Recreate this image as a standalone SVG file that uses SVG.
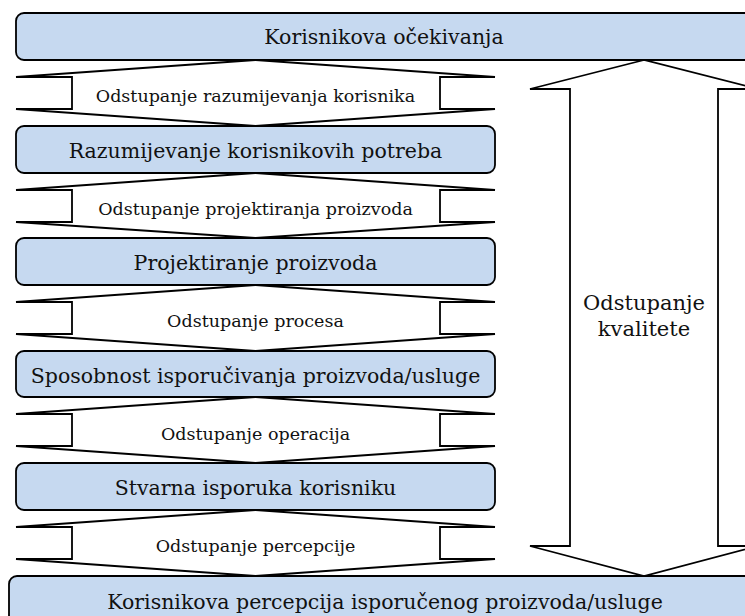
<svg xmlns="http://www.w3.org/2000/svg" width="745" height="616" viewBox="0 0 745 616">
  <style>
    .box { fill: #c6d9f0; stroke: #000; stroke-width: 1.8; }
    .arw { fill: #fff; stroke: #000; stroke-width: 1.8; stroke-linejoin: miter; }
    .t  { font-family: "DejaVu Serif", "Liberation Serif", serif; fill: #111; text-anchor: middle; }
    .tb { font-size: 20.5px; }
    .tl { font-size: 17.5px; }
    .tq { font-size: 21px; }
  </style>
  <rect width="745" height="616" fill="#fff"/>

  <!-- gap arrows between stages -->
  <g id="connectors">
    <polygon class="arw" points="255.5,60 16,77 72,77 72,109 16,109 255.5,126 495,109 440,109 440,77 495,77"/>
    <polygon class="arw" points="255.5,173 16,190 72,190 72,222 16,222 255.5,238 495,222 440,222 440,190 495,190"/>
    <polygon class="arw" points="255.5,285 16,302 72,302 72,334 16,334 255.5,351 495,334 440,334 440,302 495,302"/>
    <polygon class="arw" points="255.5,397 16,414 72,414 72,446 16,446 255.5,463 495,446 440,446 440,414 495,414"/>
    <polygon class="arw" points="255.5,510 16,527 72,527 72,559 16,559 255.5,576 495,559 440,559 440,527 495,527"/>
    <!-- overall quality gap -->
    <polygon class="arw" points="644,60 530,89 570,89 570,546 530,546 644,576 758,546 718,546 718,89 758,89"/>
  </g>

  <g id="gap1"><text class="t tl" x="255.5" y="101.5">Odstupanje razumijevanja korisnika</text></g>
  <g id="gap2"><text class="t tl" x="255.5" y="214.5">Odstupanje projektiranja proizvoda</text></g>
  <g id="gap3"><text class="t tl" x="255.5" y="326.5">Odstupanje procesa</text></g>
  <g id="gap4"><text class="t tl" x="255.5" y="439.5">Odstupanje operacija</text></g>
  <g id="gap5"><text class="t tl" x="255.5" y="551.5">Odstupanje percepcije</text></g>
  <g id="quality"><text class="t tq" x="644" y="309.5">Odstupanje</text><text class="t tq" x="644" y="336">kvalitete</text></g>

  <g id="expectations">
    <rect class="box" x="16" y="13" width="760" height="47" rx="8"/>
    <text class="t tb" x="384" y="44">Korisnikova očekivanja</text>
  </g>
  <g id="understanding">
    <rect class="box" x="16" y="126" width="479" height="47" rx="8"/>
    <text class="t tb" x="255.5" y="158">Razumijevanje korisnikovih potreba</text>
  </g>
  <g id="design">
    <rect class="box" x="16" y="238" width="479" height="47" rx="8"/>
    <text class="t tb" x="255.5" y="270">Projektiranje proizvoda</text>
  </g>
  <g id="capability">
    <rect class="box" x="16" y="351" width="479" height="46" rx="8"/>
    <text class="t tb" x="255.5" y="383">Sposobnost isporučivanja proizvoda/usluge</text>
  </g>
  <g id="delivery">
    <rect class="box" x="16" y="463" width="479" height="47" rx="8"/>
    <text class="t tb" x="255.5" y="495">Stvarna isporuka korisniku</text>
  </g>
  <g id="perception">
    <rect class="box" x="9" y="576" width="770" height="60" rx="8"/>
    <text class="t tb" x="385" y="609">Korisnikova percepcija isporučenog proizvoda/usluge</text>
  </g>
</svg>
